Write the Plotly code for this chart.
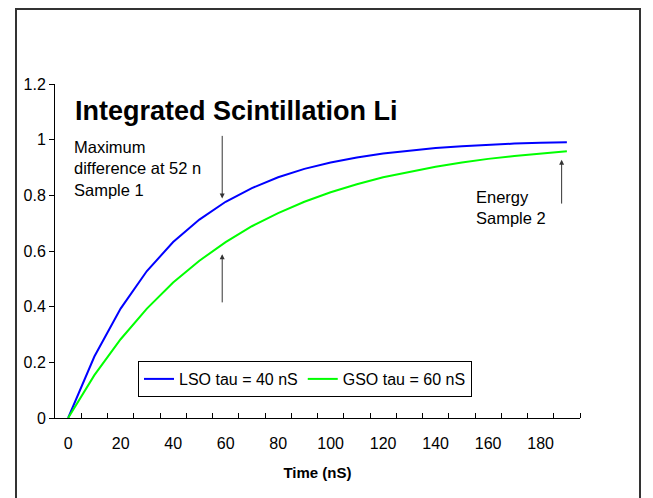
import plotly.graph_objects as go

# Integrated scintillation light (fraction of total) vs time, sampled every 10 nS
time_ns = [0, 10, 20, 30, 40, 50, 60, 70, 80, 90,
           100, 110, 120, 130, 140, 150, 160, 170, 180, 190]
lso_light = [0.000, 0.221, 0.393, 0.528, 0.632, 0.713, 0.777, 0.826, 0.865, 0.895,
             0.918, 0.936, 0.950, 0.961, 0.970, 0.976, 0.982, 0.986, 0.989, 0.991]
gso_light = [0.000, 0.154, 0.283, 0.393, 0.487, 0.565, 0.632, 0.689, 0.736, 0.777,
             0.811, 0.840, 0.865, 0.885, 0.903, 0.918, 0.931, 0.941, 0.950, 0.958]

x_label_vals = [0, 20, 40, 60, 80, 100, 120, 140, 160, 180]
y_tick_vals = [0, 0.2, 0.4, 0.6, 0.8, 1.0, 1.2]
y_tick_text = ["0", "0.2", "0.4", "0.6", "0.8", "1", "1.2"]

FONT = "Arial, Liberation Sans, sans-serif"
step = time_ns[1] - time_ns[0]
# tick marks sit on the boundaries between the time samples
boundaries = [t + step / 2 for t in time_ns]

fig = go.Figure()
fig.add_trace(go.Scatter(x=time_ns, y=lso_light, mode="lines", name="LSO tau = 40 nS",
                         line=dict(color="#0000FF", width=2)))
fig.add_trace(go.Scatter(x=time_ns, y=gso_light, mode="lines", name="GSO tau = 60 nS",
                         line=dict(color="#00FF00", width=2)))

fig.update_layout(
    width=653, height=498, autosize=False,
    margin=dict(l=55, r=73, t=84, b=80, pad=0),
    paper_bgcolor="white", plot_bgcolor="white",
    font=dict(family=FONT, size=16, color="black"),
    title=dict(text="<b>Integrated Scintillation Li</b>",
               font=dict(family=FONT, size=27, color="black"),
               x=75 / 653, xanchor="left", y=1 - 111 / 498, yanchor="middle"),
    xaxis=dict(range=[time_ns[0] - step / 2, time_ns[-1] + step / 2],
               tickmode="array", tickvals=x_label_vals,
               ticktext=[str(v) for v in x_label_vals], ticks="",
               ticklabelstandoff=11,
               minor=dict(tickmode="array", tickvals=boundaries, ticks="inside",
                          ticklen=5, tickwidth=1, tickcolor="black", showgrid=False),
               showline=True, linecolor="black", linewidth=1,
               showgrid=False, zeroline=False,
               tickfont=dict(family=FONT, size=16),
               title=dict(text="<b>Time (nS)</b>", font=dict(family=FONT, size=15),
                          standoff=16)),
    yaxis=dict(range=[0, 1.2], tickmode="array", tickvals=y_tick_vals, ticktext=y_tick_text,
               ticks="outside", ticklen=5, tickwidth=1, tickcolor="black",
               showline=True, linecolor="black", linewidth=1,
               showgrid=False, zeroline=False,
               tickfont=dict(family=FONT, size=16)),
    legend=dict(orientation="h", x=(138 - 55) / 525, xanchor="left",
                y=(418 - 361) / 334, yanchor="top",
                bgcolor="white", bordercolor="black", borderwidth=1,
                font=dict(family=FONT, size=16), itemwidth=30, tracegroupgap=0),
    showlegend=True,
)

# chart border
fig.add_shape(type="rect", xref="paper", yref="paper",
              x0=(16 - 55) / 525, x1=(640 - 55) / 525,
              y0=-0.5, y1=1 + (84 - 9) / 334,
              line=dict(color="#333333", width=2), fillcolor="rgba(0,0,0,0)")

arrow = dict(showarrow=True, text="", axref="x", ayref="y",
             arrowhead=2, arrowsize=1, arrowwidth=1, arrowcolor="#333333")
fig.add_annotation(x=58.7, y=0.789, ax=58.7, ay=1.019, **arrow)
fig.add_annotation(x=58.7, y=0.588, ax=58.7, ay=0.41, **arrow)
fig.add_annotation(x=188, y=0.928, ax=188, ay=0.765, **arrow)

fig.add_annotation(x=1.4, y=1.012, xanchor="left", yanchor="top", align="left",
                   showarrow=False, text="Maximum<br>difference at 52 n<br>Sample 1",
                   font=dict(family=FONT, size=16.5))
fig.add_annotation(x=154.6, y=0.833, xanchor="left", yanchor="top", align="left",
                   showarrow=False, text="Energy<br>Sample 2",
                   font=dict(family=FONT, size=16.5))

fig.write_html("out.html")
